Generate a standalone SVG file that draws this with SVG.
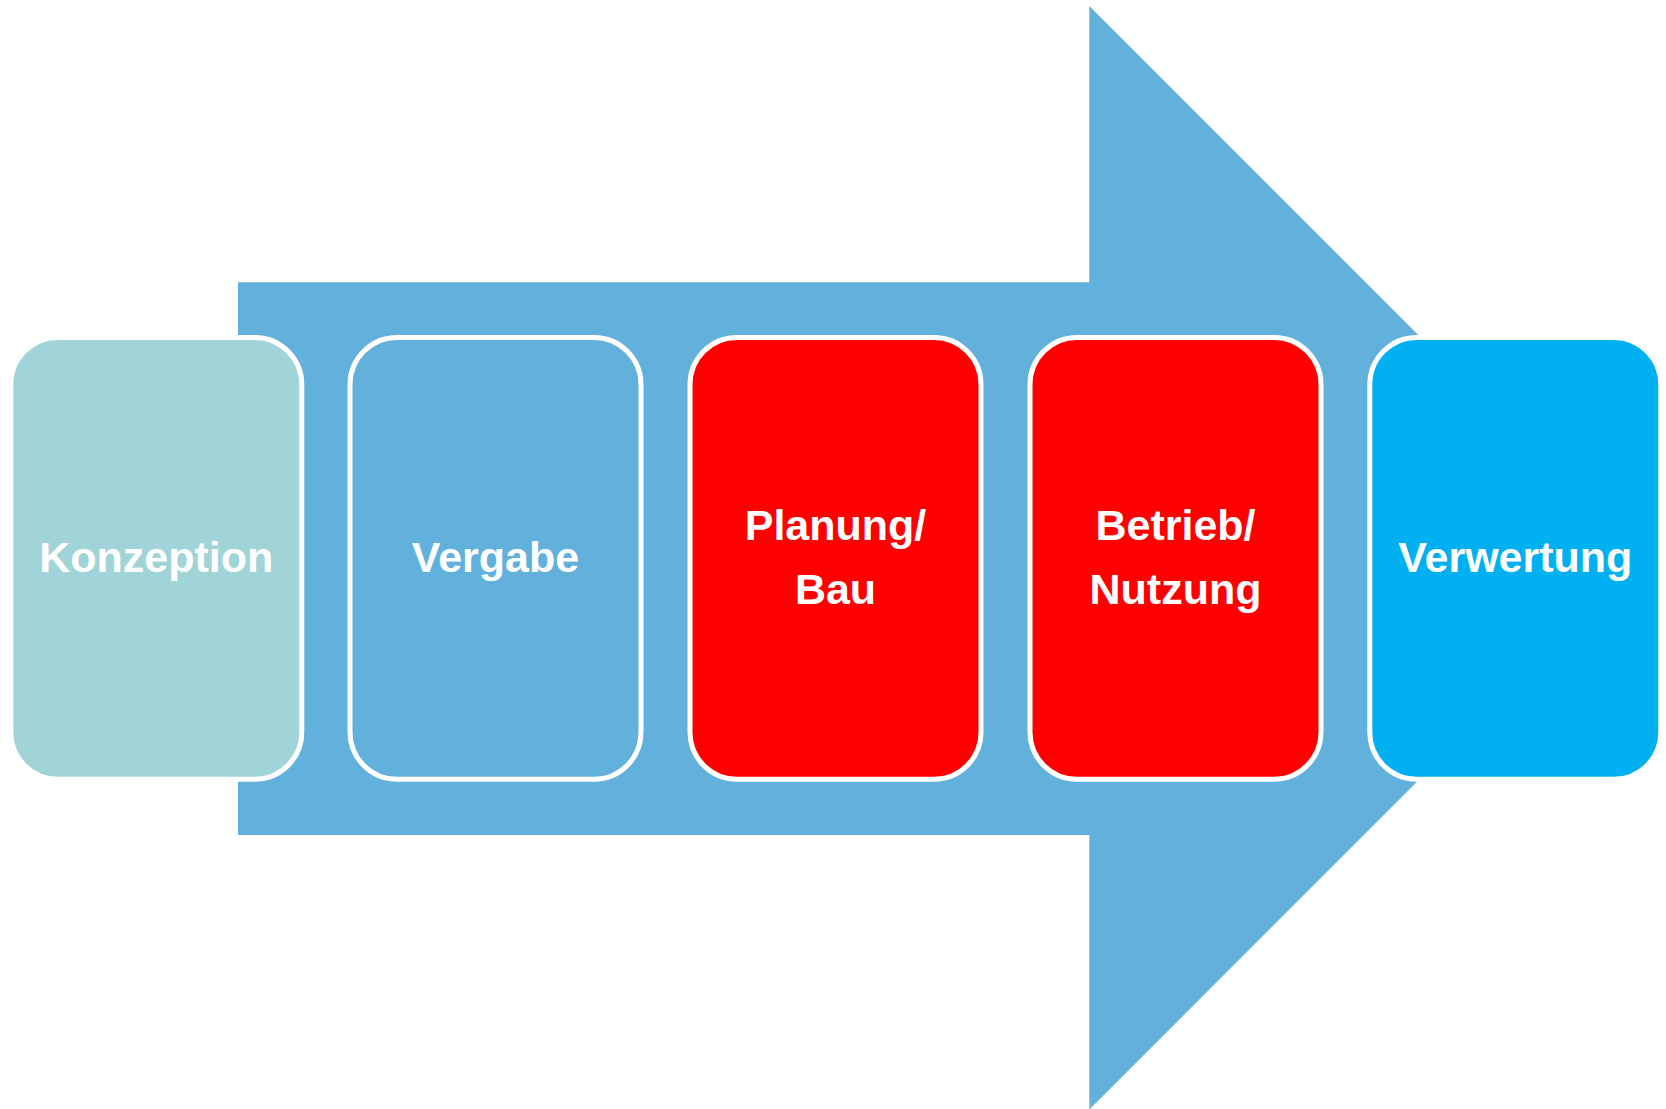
<svg xmlns="http://www.w3.org/2000/svg" width="1666" height="1109" viewBox="0 0 1666 1109">
<style>
.box{stroke:#FFFFFF;stroke-width:5}
.lbl{font-family:"Liberation Sans",Arial,sans-serif;font-weight:bold;font-size:43px;fill:#FFFFFF;text-anchor:middle}
</style>
<rect x="0" y="0" width="1666" height="1109" fill="#FFFFFF"/>
<g id="connectors">
<polygon id="arrow" points="238,282.3 1089.3,282.3 1089.3,6 1641,557.8 1089.3,1109.6 1089.3,835 238,835" fill="#62B1DC"/>
</g>
<g id="node-konzeption">
<rect class="box" x="10.8" y="337.5" width="291" height="441.8" rx="47" ry="47" fill="#A0D4D8"/>
<text class="lbl" x="156.3" y="572">Konzeption</text>
</g>
<g id="node-vergabe">
<rect class="box" x="350" y="337.5" width="291" height="441.8" rx="47" ry="47" fill="#62B1DC"/>
<text class="lbl" x="495.5" y="572">Vergabe</text>
</g>
<g id="node-planung">
<rect class="box" x="690" y="337.5" width="291" height="441.8" rx="47" ry="47" fill="#FF0000"/>
<text class="lbl" x="835.5" y="540">Planung/</text>
<text class="lbl" x="835.5" y="604">Bau</text>
</g>
<g id="node-betrieb">
<rect class="box" x="1030" y="337.5" width="291" height="441.8" rx="47" ry="47" fill="#FF0000"/>
<text class="lbl" x="1175.5" y="540">Betrieb/</text>
<text class="lbl" x="1175.5" y="604">Nutzung</text>
</g>
<g id="node-verwertung">
<rect class="box" x="1369.8" y="337.5" width="291" height="441.8" rx="47" ry="47" fill="#00B0F0"/>
<text class="lbl" x="1515.3" y="572">Verwertung</text>
</g>
</svg>
